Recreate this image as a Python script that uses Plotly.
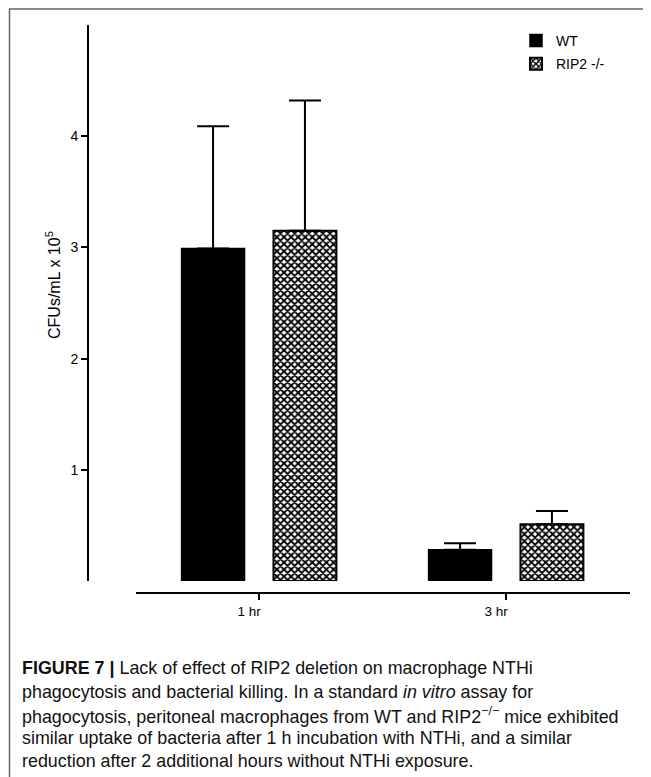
import plotly.graph_objects as go

# The page adds an 8px body margin, so the figure is drawn at (8, 8).
OFF = 8
W, H = 651 - OFF, 777 - OFF


def fx(p):
    return (p - OFF) / W


def fy(p):
    return 1 - (p - OFF) / H


categories = ["1 hr", "3 hr"]
wt_mean = [2.99, 0.28]
wt_err = [1.10, 0.06]
rip2_mean = [3.15, 0.51]
rip2_err = [1.17, 0.12]
y_ticks = [1, 2, 3, 4]
series_names = ["WT", "RIP2 -/-"]

caption_lines = [
    "<b>FIGURE 7 |</b> Lack of effect of RIP2 deletion on macrophage NTHi",
    "phagocytosis and bacterial killing. In a standard <i>in vitro</i> assay for",
    "phagocytosis, peritoneal macrophages from WT and RIP2<sup>\u2212/\u2212</sup> mice exhibited",
    "similar uptake of bacteria after 1 h incubation with NTHi, and a similar",
    "reduction after 2 additional hours without NTHi exposure.",
]

FONT = "Liberation Sans, Arial, sans-serif"

fig = go.Figure()
fig.add_trace(go.Bar(
    name=series_names[0], x=categories, y=wt_mean, legendgroup="a",
    marker=dict(color="black", line=dict(color="black", width=1.5)),
    error_y=dict(type="data", array=wt_err, arrayminus=[0, 0], symmetric=False,
                 color="black", thickness=2, width=16),
))
fig.add_trace(go.Bar(
    name=series_names[1], x=categories, y=rip2_mean, legendgroup="b",
    marker=dict(color="white", line=dict(color="black", width=2),
                pattern=dict(shape="x", size=5, solidity=0.6,
                             fgcolor="black", bgcolor="white")),
    error_y=dict(type="data", array=rip2_err, arrayminus=[0, 0], symmetric=False,
                 color="black", thickness=2, width=16),
))

annotations = [
    dict(text="CFUs/mL x 10<sup>5</sup>", textangle=-90, x=fx(41), y=fy(285),
         xref="paper", yref="paper", showarrow=False,
         font=dict(family=FONT, size=16, color="black"))
]
line_y = [668, 692, 715, 738, 761]
for t, yy in zip(caption_lines, line_y):
    annotations.append(dict(text=t, x=fx(20), y=fy(yy), xref="paper", yref="paper",
                            xanchor="left", yanchor="middle", showarrow=False,
                            font=dict(family=FONT, size=17.9, color="#111")))

shapes = [
    dict(type="line", xref="paper", yref="paper", x0=fx(9), x1=1.0, y0=fy(9), y1=fy(9),
         line=dict(color="#666", width=1.5)),
    dict(type="line", xref="paper", yref="paper", x0=fx(9.5), x1=fx(9.5), y0=fy(9), y1=0,
         line=dict(color="#666", width=1.5)),
]

fig.update_layout(
    template="none",
    width=W, height=H,
    margin=dict(l=0, r=0, t=0, b=0),
    paper_bgcolor="white", plot_bgcolor="white",
    barmode="group", bargap=0.256, bargroupgap=0.315,
    font=dict(family=FONT, color="black"),
    xaxis=dict(domain=[fx(135.5), fx(629.5)], range=[-0.5, 1.5], anchor="free",
               position=fy(593), showline=True, linecolor="black", linewidth=2,
               ticks="outside", ticklen=6, tickwidth=2, tickcolor="black",
               tickfont=dict(family=FONT, size=13.5, color="black"),
               showgrid=False, zeroline=False, ticklabelshift=-10, automargin=False),
    yaxis=dict(domain=[fy(581), fy(25)], range=[0, 5], anchor="free",
               position=fx(88), showline=True, linecolor="black", linewidth=2,
               tickvals=y_ticks, ticks="outside", ticklen=6, tickwidth=2,
               tickcolor="black", tickfont=dict(family=FONT, size=14, color="black"),
               showgrid=False, zeroline=False, automargin=False),
    legend=dict(x=fx(516), y=fy(25), xanchor="left", yanchor="top",
                font=dict(family=FONT, size=14, color="black"),
                traceorder="grouped", tracegroupgap=2, bgcolor="rgba(0,0,0,0)"),
    annotations=annotations,
    shapes=shapes,
)

fig.write_html("out.html")
